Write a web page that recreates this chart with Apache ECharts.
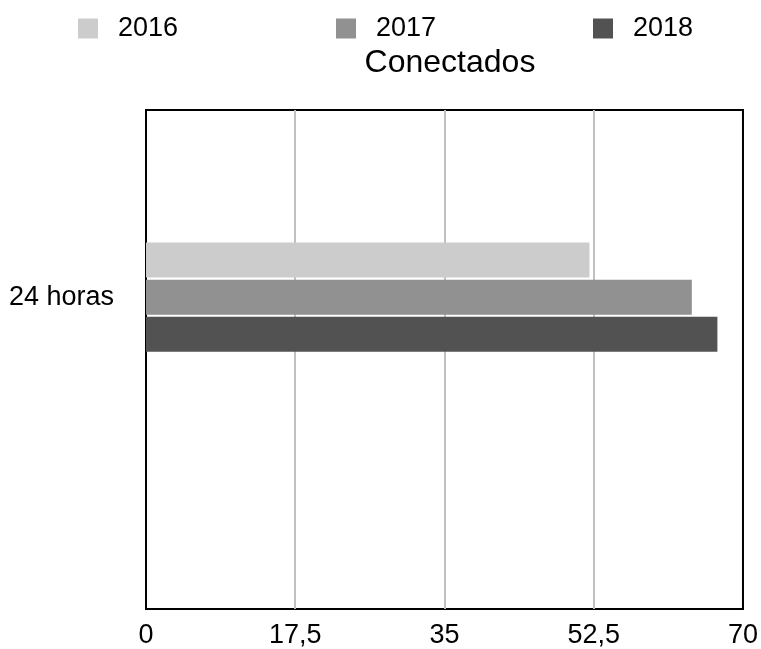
<!DOCTYPE html>
<html>
<head>
<meta charset="utf-8">
<script src="https://cdn.jsdelivr.net/npm/echarts@6/dist/echarts.min.js"></script>
<style>
  html, body { margin: 0; padding: 0; background: #fff; }
  #main { width: 761px; height: 649px; }
</style>
</head>
<body>
<div id="main"></div>
<script>
// datos
var categorias = ['', '24 horas', '', ''];
var anos = ['2016', '2017', '2018'];
var valores2016 = ['-', 52, '-', '-'];
var valores2017 = ['-', 64, '-', '-'];
var valores2018 = ['-', 67, '-', '-'];
var colores = ['#cccccc', '#919191', '#525252'];
var ticks = [0, 17.5, 35, 52.5, 70];

var myChart = echarts.init(document.getElementById('main'));
var fuente = 'Liberation Sans';

function leyenda(i, x) {
    return {
        data: [anos[i]],
        left: x,
        top: 15,
        padding: 0,
        itemWidth: 20,
        itemHeight: 20,
        icon: 'rect',
        selectedMode: false,
        textStyle: { fontFamily: fuente, fontSize: 27, color: '#000', padding: [0, 0, 0, 15] }
    };
}

var option = {
    animation: false,
    color: colores,
    title: {
        text: 'Conectados',
        left: 445,
        textAlign: 'center',
        top: 42,
        textStyle: { fontFamily: fuente, fontSize: 32, fontWeight: 'normal', color: '#000' }
    },
    legend: [leyenda(0, 78), leyenda(1, 336), leyenda(2, 593)],
    grid: {
        left: 146, right: 18, top: 110, bottom: 38,
        show: true, borderColor: '#000', borderWidth: 2, containLabel: false
    },
    xAxis: {
        type: 'value',
        min: 0, max: 70, interval: 17.5,
        axisLine: { show: false },
        axisTick: { show: false },
        splitLine: { showMinLine: false, showMaxLine: false, lineStyle: { color: '#c0c0c0', width: 2 } },
        axisLabel: {
            fontFamily: fuente, fontSize: 27, color: '#000', margin: 13,
            formatter: function (v) { return String(v).replace('.', ','); }
        }
    },
    yAxis: {
        type: 'category',
        inverse: true,
        data: categorias,
        axisLine: { show: false },
        axisTick: { show: false },
        splitLine: { show: false },
        axisLabel: { fontFamily: fuente, fontSize: 27, color: '#000', margin: 32 }
    },
    series: [
        { name: anos[0], type: 'bar', data: valores2016, barWidth: 35, barGap: '6%' },
        { name: anos[1], type: 'bar', data: valores2017, barWidth: 35, barGap: '6%' },
        { name: anos[2], type: 'bar', data: valores2018, barWidth: 35, barGap: '6%' }
    ]
};
myChart.setOption(option);
</script>
</body>
</html>
